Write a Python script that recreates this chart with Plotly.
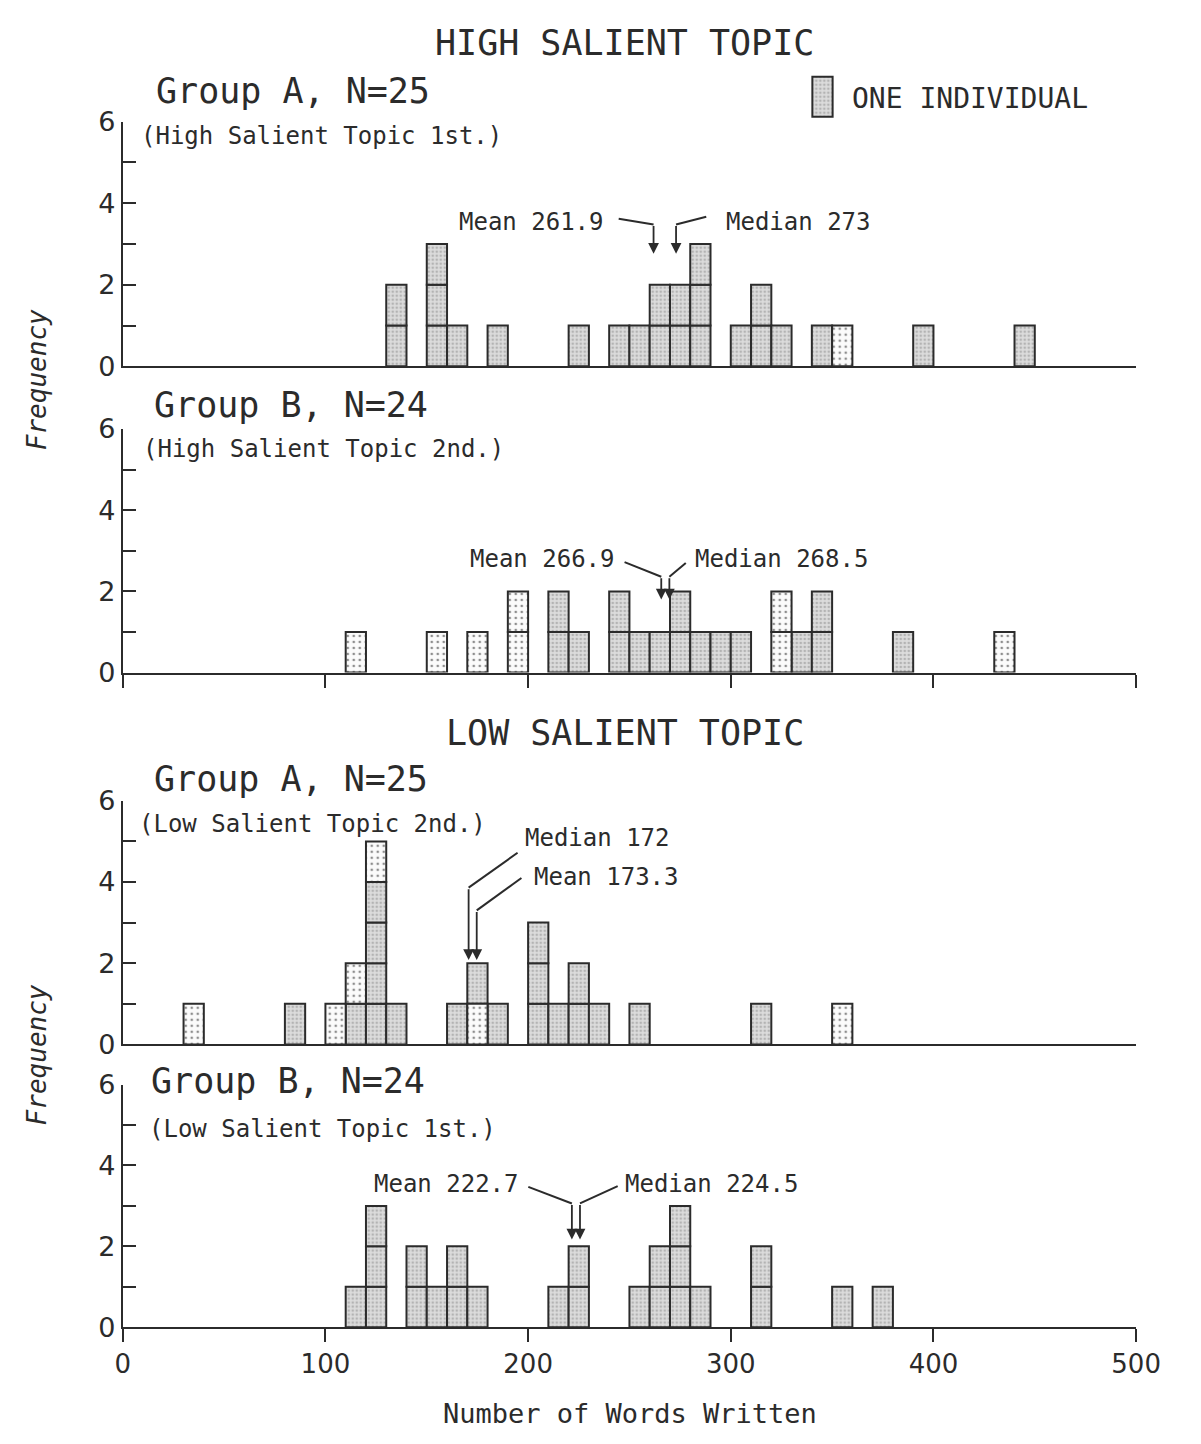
import plotly.graph_objects as go

# ---------------- data ----------------
BIN_WIDTH = 10
x_ticks = [0, 100, 200, 300, 400, 500]
y_ticks = [0, 1, 2, 3, 4, 5, 6]
y_ticktext = ["0", "", "2", "", "4", "", "6"]

# box codes per bin, bottom -> top: G = shaded box, D = dotted box
hiA_bins = [130, 150, 160, 180, 220, 240, 250, 260, 270, 280, 300, 310, 320, 340, 350, 390, 440]
hiA_boxes = ["GG", "GGG", "G", "G", "G", "G", "G", "GG", "GG", "GGG", "G", "GG", "G", "G", "D", "G", "G"]
hiA_mean, hiA_median = 261.9, 273

hiB_bins = [110, 150, 170, 190, 210, 220, 240, 250, 260, 270, 280, 290, 300, 320, 330, 340, 380, 430]
hiB_boxes = ["D", "D", "D", "DD", "GG", "G", "GG", "G", "G", "GG", "G", "G", "G", "DD", "G", "GG", "G", "D"]
hiB_mean, hiB_median = 266.9, 268.5

loA_bins = [30, 80, 100, 110, 120, 130, 160, 170, 180, 200, 210, 220, 230, 250, 310, 350]
loA_boxes = ["D", "G", "D", "GD", "GGGGD", "G", "G", "DG", "G", "GGG", "G", "GG", "G", "G", "G", "D"]
loA_mean, loA_median = 173.3, 172

loB_bins = [110, 120, 140, 150, 160, 170, 210, 220, 250, 260, 270, 280, 310, 350, 370]
loB_boxes = ["G", "GGG", "GG", "G", "GG", "G", "G", "GG", "G", "GG", "GGG", "G", "GG", "G", "G"]
loB_mean, loB_median = 222.7, 224.5

legend_count = [1]

# ---------------- style ----------------
W, H = 1201, 1444
INK = "#2b2b2b"
FONT = "DejaVu Sans Mono"
NUMFONT = "DejaVu Sans"
FILL = {
    "G": dict(bg="#dcdcdc", fg="#8a8a8a", size=4, solidity=0.35),
    "D": dict(bg="#fbfbfb", fg="#1e1e1e", size=6, solidity=0.16),
}

def px_x(p):
    return p / W

def px_y(p):
    return 1 - p / H

X_DOMAIN = [px_x(118), px_x(1160)]

panels = [
    dict(bins=hiA_bins, boxes=hiA_boxes, ypx=(358, 108), xticks="none",
         title="Group A, N=25", title_px=(150, 77),
         sub="(High Salient Topic 1st.)", sub_px=(135, 123),
         marks=[dict(kind="Mean", value=hiA_mean, anchor="right", text=(238.5, 3.55), start=(244.7, 3.62), bend=3.48, tip=2.76),
                dict(kind="Median", value=hiA_median, anchor="left", text=(296.5, 3.55), start=(287.9, 3.67), bend=3.48, tip=2.76)]),
    dict(bins=hiB_bins, boxes=hiB_boxes, ypx=(671, 422), xticks="ticks",
         title="Group B, N=24", title_px=(148, 398),
         sub="(High Salient Topic 2nd.)", sub_px=(137, 443),
         marks=[dict(kind="Mean", value=hiB_mean, anchor="right", text=(244.0, 2.80), start=(247.6, 2.72), bend=2.36, tip=1.80),
                dict(kind="Median", value=hiB_median, anchor="left", text=(281.5, 2.80), start=(277.8, 2.70), bend=2.36, tip=1.80)]),
    dict(bins=loA_bins, boxes=loA_boxes, ypx=(1051, 802), xticks="none",
         title="Group A, N=25", title_px=(148, 780),
         sub="(Low Salient Topic 2nd.)", sub_px=(133, 826),
         marks=[dict(kind="Median", value=loA_median, anchor="left", text=(197.5, 5.08), start=(194.8, 4.72), bend=3.86, tip=2.08),
                dict(kind="Mean", value=loA_mean, anchor="left", text=(202.0, 4.12), start=(196.7, 4.10), bend=3.30, tip=2.08)]),
    dict(bins=loB_bins, boxes=loB_boxes, ypx=(1340, 1092), xticks="labels",
         title="Group B, N=24", title_px=(145, 1088),
         sub="(Low Salient Topic 1st.)", sub_px=(143, 1137),
         marks=[dict(kind="Mean", value=loB_mean, anchor="right", text=(196.7, 3.54), start=(200.1, 3.47), bend=3.06, tip=2.17),
                dict(kind="Median", value=loB_median, anchor="left", text=(246.6, 3.54), start=(244.2, 3.49), bend=3.06, tip=2.17)]),
]

fig = go.Figure()
shapes = []
annotations = []

for i, p in enumerate(panels, start=1):
    sfx = "" if i == 1 else str(i)
    xref, yref = "x" + sfx, "y" + sfx
    xs = {"G": [], "D": []}
    bs = {"G": [], "D": []}
    for left, stack in zip(p["bins"], p["boxes"]):
        for level, kind in enumerate(stack):
            xs[kind].append(left + BIN_WIDTH / 2)
            bs[kind].append(level)
    for kind in "GD":
        if not xs[kind]:
            continue
        f = FILL[kind]
        fig.add_trace(go.Bar(
            x=xs[kind], y=[1] * len(xs[kind]), base=bs[kind], width=BIN_WIDTH,
            marker=dict(color=f["bg"], line=dict(color=INK, width=2),
                        pattern=dict(shape=".", fgcolor=f["fg"], bgcolor=f["bg"],
                                     size=f["size"], solidity=f["solidity"], fillmode="overlay")),
            xaxis=xref, yaxis=yref, hoverinfo="skip", showlegend=False))

    bottom, top = p["ypx"]
    xa = dict(domain=X_DOMAIN, range=[0, 500], anchor=yref, showline=True, linecolor=INK,
              linewidth=2, showgrid=False, zeroline=False, fixedrange=True)
    if p["xticks"] == "none":
        xa.update(ticks="", showticklabels=False)
    else:
        xa.update(ticks="outside", ticklen=13, tickwidth=2, tickcolor=INK, tickvals=x_ticks,
                  showticklabels=(p["xticks"] == "labels"),
                  tickfont=dict(family=NUMFONT, size=26, color=INK))
    ya = dict(domain=[px_y(bottom), px_y(top)], range=[0, 6], anchor=xref, showline=True,
              linecolor=INK, linewidth=2, showgrid=False, zeroline=False, ticks="inside",
              ticklen=13, tickwidth=2, tickcolor=INK, tickvals=y_ticks, ticktext=y_ticktext,
              tickfont=dict(family=NUMFONT, size=27, color=INK), fixedrange=True)
    fig.update_layout(**{"xaxis" + sfx: xa, "yaxis" + sfx: ya})

    # panel titles
    annotations.append(dict(text=p["title"], x=px_x(p["title_px"][0]), y=px_y(p["title_px"][1]),
                            xref="paper", yref="paper", xanchor="left", yanchor="middle",
                            showarrow=False, font=dict(family=FONT, size=35, color=INK)))
    annotations.append(dict(text=p["sub"], x=px_x(p["sub_px"][0]), y=px_y(p["sub_px"][1]),
                            xref="paper", yref="paper", xanchor="left", yanchor="middle",
                            showarrow=False, font=dict(family=FONT, size=24, color=INK)))

    # mean / median pointers
    vals = [m["value"] for m in p["marks"]]
    mid = sum(vals) / 2
    gap = 4.0
    arrow_x = []
    for m in p["marks"]:
        v = m["value"]
        if abs(vals[0] - vals[1]) < gap:
            v = mid - gap / 2 if v == min(vals) else mid + gap / 2
        arrow_x.append(v)
    for m, ax in zip(p["marks"], arrow_x):
        label = f"{m['kind']} {m['value']}"
        annotations.append(dict(text=label, x=m["text"][0], y=m["text"][1], xref=xref, yref=yref,
                                xanchor=m["anchor"], yanchor="middle", showarrow=False,
                                font=dict(family=FONT, size=24, color=INK)))
        shapes.append(dict(type="line", xref=xref, yref=yref, x0=m["start"][0], y0=m["start"][1],
                           x1=ax, y1=m["bend"], line=dict(color=INK, width=2)))
        annotations.append(dict(text="", x=ax, y=m["tip"], ax=ax, ay=m["bend"], xref=xref, yref=yref,
                                axref=xref, ayref=yref, showarrow=True, arrowhead=2, arrowsize=1.2,
                                arrowwidth=1.8, arrowcolor=INK))

# legend swatch (one individual)
f = FILL["G"]
fig.add_trace(go.Bar(x=[0], y=legend_count, width=1, base=[0],
                     marker=dict(color=f["bg"], line=dict(color=INK, width=2),
                                 pattern=dict(shape=".", fgcolor=f["fg"], bgcolor=f["bg"],
                                              size=f["size"], solidity=f["solidity"], fillmode="overlay")),
                     xaxis="x5", yaxis="y5", hoverinfo="skip", showlegend=False))
fig.update_layout(
    xaxis5=dict(domain=[px_x(825), px_x(850)], range=[-0.6, 0.6], visible=False, anchor="y5", fixedrange=True),
    yaxis5=dict(domain=[px_y(105), px_y(60)], range=[-0.05, 1.05], visible=False, anchor="x5", fixedrange=True),
)
annotations.append(dict(text="ONE INDIVIDUAL", x=px_x(866), y=px_y(84), xref="paper", yref="paper",
                        xanchor="left", yanchor="middle", showarrow=False,
                        font=dict(family=FONT, size=28, color=INK)))

# section headings
for text, ypx in [("HIGH SALIENT TOPIC", 28), ("LOW SALIENT TOPIC", 733)]:
    annotations.append(dict(text=text, x=px_x(634), y=px_y(ypx), xref="paper", yref="paper",
                            xanchor="center", yanchor="middle", showarrow=False,
                            font=dict(family=FONT, size=35, color=INK)))

# axis titles
for ypx in [372, 1062]:
    annotations.append(dict(text="Frequency", x=px_x(30), y=px_y(ypx), xref="paper", yref="paper",
                            xanchor="center", yanchor="middle", textangle=-90, showarrow=False,
                            font=dict(family=FONT, size=26, color=INK, style="italic")))
annotations.append(dict(text="Number of Words Written", x=px_x(640), y=px_y(1428), xref="paper",
                        yref="paper", xanchor="center", yanchor="middle", showarrow=False,
                        font=dict(family=FONT, size=27, color=INK)))

fig.update_layout(width=W, height=H, margin=dict(l=0, r=0, t=0, b=0),
                  paper_bgcolor="white", plot_bgcolor="white", barmode="overlay",
                  showlegend=False, shapes=shapes, annotations=annotations)

fig.write_html("out.html", config={"displayModeBar": False},
               post_script="document.body.style.margin='0';")
